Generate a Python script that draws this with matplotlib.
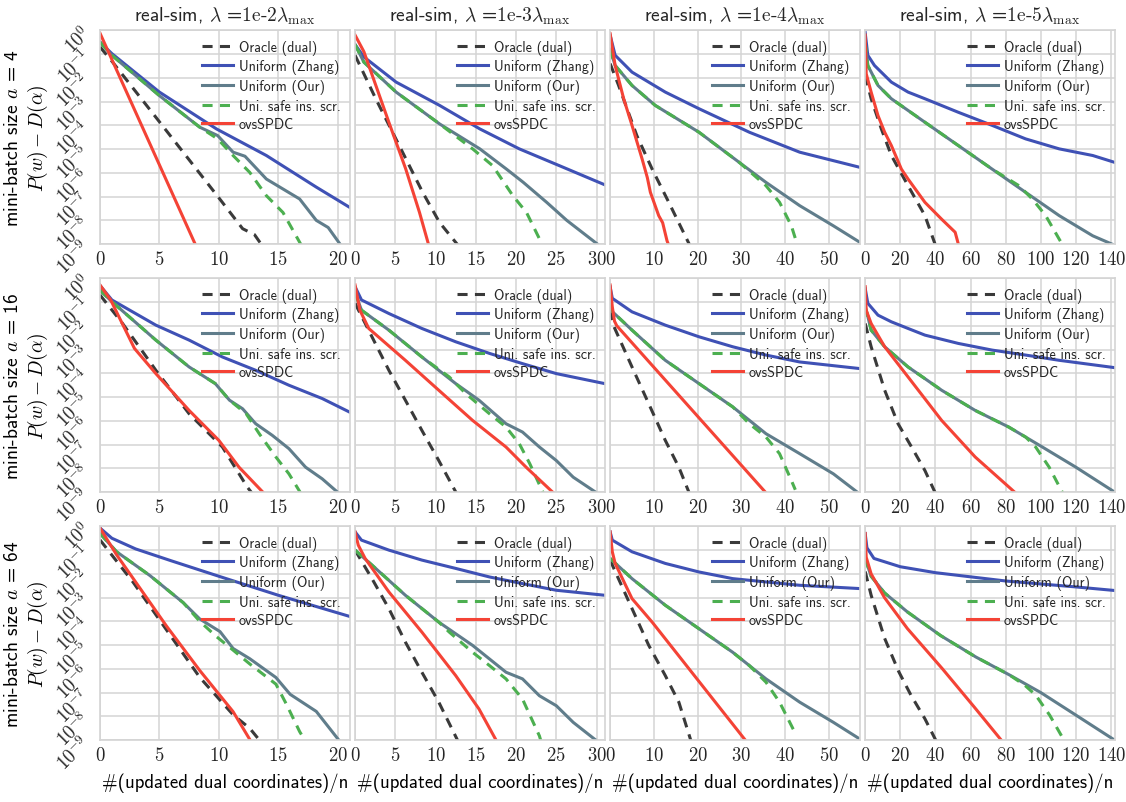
import numpy as np
import matplotlib
matplotlib.use("Agg")
import matplotlib.pyplot as plt
from matplotlib.ticker import FuncFormatter, FixedLocator

# ---------------- data (x = #updated dual coords / n, y = log10 duality gap) -------------
lambdas = ["1e-2", "1e-3", "1e-4", "1e-5"]
batch_sizes = [4, 16, 64]
labels = ["Oracle (dual)", "Uniform (Zhang)", "Uniform (Our)", "Uni. safe ins. scr.", "ovsSPDC"]
x_limits = [21, 31, 57, 142]
x_ticks = [[0, 5, 10, 15, 20], [0, 5, 10, 15, 20, 25, 30], [0, 10, 20, 30, 40, 50],
           [0, 20, 40, 60, 80, 100, 120, 140]]
y_ticks = [-9, -8, -7, -6, -5, -4, -3, -2, -1, 0]

# a = 4
a4_l2_oracle = [(0, -0.7), (1, -1.3), (5, -3.85), (10, -7.05), (12, -8.35), (13, -8.6), (13.7, -9.1)]
a4_l2_zhang = [(0, -0.5), (1, -0.98), (5, -2.6), (9.8, -4.15), (14, -5.27), (18.2, -6.6), (21, -7.45)]
a4_l2_our = [(0, -0.5), (1, -1.05), (5, -2.75), (8.4, -4.08), (9.9, -4.43), (11.2, -5.13), (12.2, -5.3),
             (14, -6.26), (15.4, -6.68), (16.8, -7.1), (18.2, -8.0), (19.2, -8.3), (20.2, -9.0)]
a4_l2_safe = [(0, -0.5), (1, -1.05), (5, -2.75), (8.4, -4.08), (9.9, -4.57), (11.2, -5.27),
              (12.6, -5.98), (14, -6.96), (15.4, -7.67), (17.0, -9.1)]
a4_l2_ovs = [(0, -0.12), (8.1, -9.1)]

a4_l3_oracle = [(0, -1.05), (2.6, -2.9), (5.9, -5.13), (8.4, -6.82), (10.5, -8.09), (12.8, -9.05)]
a4_l3_zhang = [(0, -0.6), (1.1, -1.12), (5.1, -2.18), (10.5, -3.16), (15.5, -4.15), (20.4, -4.99),
               (25.4, -5.7), (31, -6.5)]
a4_l3_our = [(0, -0.6), (1.1, -1.34), (5.1, -2.6), (10.5, -3.94), (15.5, -4.99), (18.8, -5.84),
             (20.9, -6.4), (23.8, -7.24), (26.3, -8.0), (30.3, -9.05)]
a4_l3_safe = [(0, -0.6), (1.1, -1.34), (5.1, -2.6), (10.5, -3.94), (14.6, -4.99), (17.1, -5.7),
              (19.6, -6.96), (21.3, -7.67), (23.3, -9.05)]
a4_l3_ovs = [(0, -0.2), (1.1, -0.9), (4.2, -3.87), (6.3, -5.84), (8, -7.66), (9.2, -9.1)]

a4_l4_oracle = [(0, -1.4), (1.9, -2.3), (6.1, -4.43), (9.6, -5.84), (13.4, -7.24), (18.2, -9.05)]
a4_l4_zhang = [(0, -0.2), (1.15, -1.05), (5, -1.76), (12.6, -2.6), (20.3, -3.3), (31.8, -4.29),
               (43.3, -5.13), (57.1, -5.77)]
a4_l4_our = [(0, -0.8), (1.15, -1.48), (5, -2.32), (10.3, -3.16), (20.3, -4.29), (29.5, -5.56),
             (35.6, -6.4), (43.3, -7.38), (51, -8.23), (57.1, -8.93)]
a4_l4_safe = [(0, -0.8), (1.15, -1.48), (5, -2.32), (10.3, -3.16), (20.3, -4.29), (29.5, -5.56),
              (35.6, -6.54), (38.7, -7.24), (41.4, -8.23), (42.8, -9.05)]
a4_l4_ovs = [(0, -0.14), (1.15, -1.48), (3.1, -2.88), (5, -4.0), (7.3, -5.41), (8.5, -6.2), (9.2, -6.82),
             (11.1, -7.8), (12.0, -8.1), (13, -8.86), (13.5, -9.1)]

a4_l5_oracle = [(0, -1.9), (3.4, -2.88), (9.2, -4.15), (14.9, -5.27), (24.4, -6.54), (34, -7.8),
                (40, -9.05)]
a4_l5_zhang = [(0, -0.1), (1.5, -1.05), (5.3, -1.48), (14.9, -2.18), (24.4, -2.6), (34, -2.88),
               (53, -3.45), (72.2, -4.0), (91.3, -4.57), (110.4, -4.99), (129.5, -5.27), (142, -5.56)]
a4_l5_our = [(0, -0.5), (1.5, -1.48), (7.3, -2.32), (14.9, -2.88), (34, -3.87), (53, -4.85),
             (72.2, -5.84), (91.3, -6.82), (110.4, -7.8), (129.5, -8.65), (142, -9.05)]
a4_l5_safe = [(0, -0.5), (1.5, -1.48), (7.3, -2.32), (14.9, -2.88), (34, -3.87), (53, -4.85),
              (72.2, -5.84), (87.5, -6.54), (95.1, -7.1), (102.7, -7.8), (110.4, -8.79), (112.5, -9.05)]
a4_l5_ovs = [(0, -0.2), (0.6, -1.83), (3.4, -2.6), (7.3, -3.59), (11.1, -4.29), (14.9, -4.85),
             (20.6, -5.84), (24.4, -6.26), (34, -7.24), (43.5, -7.95), (51.2, -8.5), (53.2, -9.05)]

# a = 16
a16_l2_oracle = [(0, -0.7), (1.9, -1.9), (4.7, -3.87), (7.5, -5.7), (10.3, -7.1), (12.4, -8.79),
                 (12.8, -9.05)]
a16_l2_zhang = [(0, -0.3), (1, -0.91), (4.7, -1.97), (7.5, -2.6), (10.3, -3.31), (13.1, -3.87),
                (15.9, -4.5), (18.7, -5.06), (21, -5.63)]
a16_l2_our = [(0, -0.5), (1, -0.98), (4.7, -2.6), (7.5, -3.73), (9.7, -4.43), (10.9, -5.13),
              (12, -5.49), (13.1, -6.12), (14.5, -6.61), (15.9, -7.17), (17.3, -7.95), (18.7, -8.44),
              (20.1, -9.05)]
a16_l2_safe = [(0, -0.5), (1, -0.98), (4.7, -2.6), (7.5, -3.73), (9.7, -4.43), (10.9, -5.13),
               (12.3, -5.7), (13.4, -6.54), (14.8, -7.52), (15.9, -8.23), (16.9, -9.05)]
a16_l2_ovs = [(0, -0.28), (0.9, -0.91), (2.9, -2.95), (4.7, -4.01), (7.5, -5.56), (10, -6.82),
              (11.7, -7.95), (13.8, -9.05)]

a16_l3_oracle = [(0, -1.05), (2.1, -2.46), (4.2, -3.87), (6.25, -5.13), (8.3, -6.4), (10.4, -7.67),
                 (12.6, -9.05)]
a16_l3_zhang = [(0, -0.35), (0.8, -0.91), (4.2, -1.48), (8.3, -2.11), (12.5, -2.67), (16.7, -3.16),
                (20.8, -3.59), (25, -4.01), (31, -4.43)]
a16_l3_our = [(0, -0.6), (0.8, -1.34), (4.2, -2.18), (8.3, -3.31), (12.5, -4.43), (15.4, -5.13),
              (18.75, -6.12), (20.8, -6.47), (22.9, -7.1), (25, -7.67), (27.1, -8.37), (30.1, -9.05)]
a16_l3_safe = [(0, -0.6), (0.8, -1.34), (4.2, -2.18), (8.3, -3.31), (11.7, -4.15), (13.75, -4.85),
               (16.7, -5.7), (18.75, -6.26), (20.4, -6.96), (21.7, -7.8), (23.4, -9.05)]
a16_l3_ovs = [(0, -0.28), (0.6, -1.34), (1.7, -2.11), (6.25, -3.45), (10.4, -4.71), (14.6, -5.98),
              (18.75, -7.1), (21.25, -7.95), (24.7, -9.05)]

a16_l4_oracle = [(0, -1.34), (0.9, -2.04), (5, -3.73), (8.8, -5.27), (12.6, -6.82), (15.7, -7.95),
                 (18.1, -9.05)]
a16_l4_zhang = [(0, -0.35), (0.5, -0.84), (5, -1.41), (12.6, -1.97), (20.3, -2.46), (28, -2.88),
                (35.6, -3.23), (43.3, -3.52), (57.1, -3.8)]
a16_l4_our = [(0, -1.0), (0.5, -1.4), (5, -2.18), (12.6, -3.45), (20.3, -4.43), (28, -5.41),
              (35.6, -6.54), (43.3, -7.38), (51, -8.23), (56.8, -9.05)]
a16_l4_safe = [(0, -1.0), (0.5, -1.4), (5, -2.18), (12.6, -3.45), (20.3, -4.43), (28, -5.41),
               (31.8, -6.12), (35.6, -6.68), (38.7, -7.38), (41.4, -8.51), (42.3, -8.9)]
a16_l4_ovs = [(0, -0.28), (0.5, -1.2), (1.0, -1.8), (1.5, -1.99), (35.7, -9.05)]

a16_l5_oracle = [(0, -1.9), (3.4, -2.88), (11.1, -4.71), (18.7, -6.12), (26.4, -7.1), (34, -8.09),
                 (40, -9.05)]
a16_l5_zhang = [(0, -0.42), (1.5, -1.05), (7.3, -1.55), (14.9, -1.83), (24.4, -2.11), (34, -2.39),
                (53, -2.74), (72.2, -3.02), (91.3, -3.23), (110.4, -3.45), (142, -3.76)]
a16_l5_our = [(0, -1.2), (1.5, -1.6), (3.4, -2.18), (11.1, -2.88), (24.4, -3.73), (43.5, -4.71),
              (62.6, -5.56), (81.7, -6.26), (100.8, -7.1), (119.9, -7.95), (142, -9.0)]
a16_l5_safe = [(0, -1.2), (1.5, -1.6), (3.4, -2.18), (11.1, -2.88), (24.4, -3.73), (43.5, -4.71),
               (62.6, -5.56), (81.7, -6.26), (91.3, -6.68), (97, -7.1), (104.7, -7.95), (112.5, -9.05)]
a16_l5_ovs = [(0, -0.35), (0.6, -1.34), (3.4, -1.9), (11.1, -2.88), (24.4, -4.15), (43.5, -5.98),
              (62.6, -7.52), (85.8, -9.05)]

# a = 64
a64_l2_oracle = [(0, -0.57), (2.8, -2.36), (5.6, -4.36), (8.4, -6.36), (11.2, -7.93), (12.6, -8.5),
                 (13.5, -9.05)]
a64_l2_zhang = [(0, -0.07), (1, -0.5), (3, -0.95), (6, -1.45), (10, -2.1), (15, -2.9), (21, -3.79)]
a64_l2_our = [(0, -0.3), (1.4, -1.07), (4.2, -2.07), (7, -3.21), (8.4, -3.9), (10.1, -4.43),
              (11.2, -5.14), (12.6, -5.57), (14.8, -6.36), (16, -7.07), (18.2, -7.79), (20.1, -9.0)]
a64_l2_safe = [(0, -0.3), (1.4, -1.07), (4.2, -2.07), (7, -3.21), (8.4, -4.0), (9.8, -4.64),
               (11.2, -5.21), (12.6, -5.79), (14.8, -6.64), (15.7, -7.5), (16.8, -8.64), (17.3, -9.05)]
a64_l2_ovs = [(0, -0.07), (1.4, -1.2), (2.8, -2.2), (5.6, -4.2), (8.4, -6.07), (11.2, -7.8),
              (12.7, -9.05)]

a64_l3_oracle = [(0, -1.0), (2.1, -2.2), (4.2, -3.46), (6.25, -4.87), (8.3, -6.14), (10.4, -7.4),
                 (12.8, -9.05)]
a64_l3_zhang = [(0, -0.23), (0.8, -0.58), (4.2, -1.0), (8.3, -1.42), (12.5, -1.77), (16.7, -2.13),
                (20.8, -2.41), (25, -2.69), (31, -2.9)]
a64_l3_our = [(0, -1.0), (2.1, -1.63), (6.25, -2.9), (10.4, -4.03), (14.6, -5.01), (18.75, -6.14),
              (20.8, -6.42), (22.9, -7.13), (25, -7.55), (27.1, -8.25), (30.1, -9.05)]
a64_l3_safe = [(0, -1.0), (2.1, -1.63), (6.25, -2.9), (10.4, -4.03), (11.7, -4.45), (14.6, -5.3),
               (16.7, -5.86), (18.75, -6.42), (20.8, -7.27), (22.9, -8.82), (23.1, -9.05)]
a64_l3_ovs = [(0, -0.23), (0.4, -0.79), (1.25, -1.35), (4.2, -2.76), (8.3, -4.45), (12.5, -6.28),
              (15.4, -7.69), (17.6, -9.05)]

a64_l4_oracle = [(0, -1.42), (1.9, -2.2), (5, -3.46), (8.8, -5.0), (12.6, -6.28), (15.7, -7.4),
                 (18.5, -9.05)]
a64_l4_zhang = [(0, -0.23), (0.5, -0.58), (5, -1.07), (12.6, -1.56), (20.3, -1.92), (28, -2.2),
                (35.6, -2.34), (43.3, -2.48), (57.1, -2.62)]
a64_l4_our = [(0, -1.35), (5, -2.2), (12.6, -3.32), (20.3, -4.31), (28, -5.3), (35.6, -6.42),
              (43.3, -7.4), (51, -8.25), (57.1, -8.96)]
a64_l4_safe = [(0, -1.35), (5, -2.2), (12.6, -3.32), (20.3, -4.31), (28, -5.3), (31.8, -5.86),
               (35.6, -6.56), (38.7, -7.4), (41.8, -8.53), (42.6, -8.8)]
a64_l4_ovs = [(0, -0.23), (0.5, -1.07), (1.15, -1.56), (5, -3.04), (9.6, -4.03), (31.1, -9.05)]

a64_l5_oracle = [(0, -1.9), (3.4, -2.9), (11, -4.7), (19, -6.1), (26, -7.1), (34, -8.1), (40.5, -9.05)]
a64_l5_zhang = [(0, -0.3), (1, -0.9), (5, -1.35), (20, -1.7), (40, -1.95), (80, -2.3), (120, -2.55),
                (142, -2.7)]
a64_l5_our = [(0, -1.35), (3.4, -2.1), (11, -2.8), (24, -3.6), (43, -4.6), (63, -5.5), (82, -6.25),
              (100, -7.0), (120, -7.95), (142, -9.0)]
a64_l5_safe = [(0, -1.35), (3.4, -2.1), (11, -2.8), (24, -3.6), (43, -4.6), (63, -5.5), (82, -6.25),
               (91, -6.7), (97, -7.1), (105, -7.95), (113.5, -9.05)]
a64_l5_ovs = [(0, -0.3), (0.6, -1.3), (3.4, -2.0), (11, -3.0), (24, -4.3), (44, -6.0), (62, -7.6),
              (78, -9.05)]

panels = [
    [[a4_l2_oracle, a4_l2_zhang, a4_l2_our, a4_l2_safe, a4_l2_ovs],
     [a4_l3_oracle, a4_l3_zhang, a4_l3_our, a4_l3_safe, a4_l3_ovs],
     [a4_l4_oracle, a4_l4_zhang, a4_l4_our, a4_l4_safe, a4_l4_ovs],
     [a4_l5_oracle, a4_l5_zhang, a4_l5_our, a4_l5_safe, a4_l5_ovs]],
    [[a16_l2_oracle, a16_l2_zhang, a16_l2_our, a16_l2_safe, a16_l2_ovs],
     [a16_l3_oracle, a16_l3_zhang, a16_l3_our, a16_l3_safe, a16_l3_ovs],
     [a16_l4_oracle, a16_l4_zhang, a16_l4_our, a16_l4_safe, a16_l4_ovs],
     [a16_l5_oracle, a16_l5_zhang, a16_l5_our, a16_l5_safe, a16_l5_ovs]],
    [[a64_l2_oracle, a64_l2_zhang, a64_l2_our, a64_l2_safe, a64_l2_ovs],
     [a64_l3_oracle, a64_l3_zhang, a64_l3_our, a64_l3_safe, a64_l3_ovs],
     [a64_l4_oracle, a64_l4_zhang, a64_l4_our, a64_l4_safe, a64_l4_ovs],
     [a64_l5_oracle, a64_l5_zhang, a64_l5_our, a64_l5_safe, a64_l5_ovs]],
]

# ---------------- style -------------
colors = ["#3a3a3a", "#3f51b5", "#607d8b", "#4caf50", "#f44336"]
styles = [(0, (3.3, 2.4)), "-", "-", (0, (3.3, 2.4)), "-"]

plt.rcParams["font.family"] = ["cmss10", "DejaVu Sans"]
plt.rcParams["mathtext.fontset"] = "cm"
plt.rcParams["axes.unicode_minus"] = False
plt.rcParams["axes.formatter.use_mathtext"] = True
plt.rcParams["text.color"] = "0.15"

fig, axes = plt.subplots(3, 4, figsize=(11.26, 8.03), dpi=100)
fig.subplots_adjust(left=0.0888, right=0.990, top=0.961, bottom=0.077, wspace=0.022, hspace=0.16)

xfmt = FuncFormatter(lambda v, p: r"$%d$" % int(round(v)))
yfmt = FuncFormatter(lambda v, p: r"$10^{%d}$" % int(round(np.log10(v))))

for r in range(3):
    for c in range(4):
        ax = axes[r, c]
        ax.set_facecolor("white")
        for k in range(5):
            pts = np.array(panels[r][c][k], dtype=float)
            ax.plot(pts[:, 0], 10.0 ** pts[:, 1], color=colors[k], linestyle=styles[k],
                    linewidth=2.2, label=labels[k])
        ax.set_yscale("log")
        ax.set_ylim(1e-9, 1e0)
        ax.set_xlim(0, x_limits[c])
        ax.xaxis.set_major_locator(FixedLocator(x_ticks[c]))
        ax.xaxis.set_major_formatter(xfmt)
        ax.yaxis.set_major_locator(FixedLocator([10.0 ** k for k in y_ticks]))
        ax.yaxis.set_minor_locator(FixedLocator([]))
        ax.yaxis.set_major_formatter(yfmt)
        ax.grid(True, color="#d4d4d4", linewidth=1.1)
        ax.set_axisbelow(True)
        for s in ax.spines.values():
            s.set_color("#d4d4d4")
            s.set_linewidth(1.2)
        ax.tick_params(axis="both", length=0, labelsize=13.5, colors="0.15", pad=4)
        if c == 0:
            for t in ax.get_yticklabels():
                t.set_rotation(45)
            ax.set_ylabel("mini-batch size $a$ = %d\n$P(w) - D(\\alpha)$" % batch_sizes[r],
                          fontsize=14, labelpad=2)
        else:
            ax.set_yticklabels([])
        if r == 0:
            ax.set_title(r"real-sim, $\lambda$ =$\mathrm{%s}\lambda_{\max}$" % lambdas[c].replace("-", "\\text{-}"),
                         fontsize=14, pad=7)
        if r == 2:
            ax.set_xlabel("#(updated dual coordinates)/n", fontsize=13.5, labelpad=6)
        ax.legend(loc="upper right", frameon=False, fontsize=10.2, handlelength=2.2,
                  labelspacing=0.33, borderaxespad=0.25, handletextpad=0.4)

fig.savefig("out.png", dpi=100, facecolor="white")
